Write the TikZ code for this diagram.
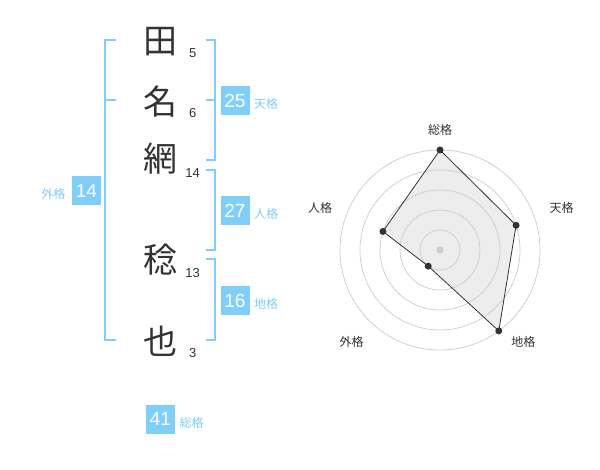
\documentclass[tikz,border=0pt]{standalone}
\usepackage{fontspec}
\setmainfont{Liberation Sans}
\newfontfamily\jpfont{Noto Sans CJK JP}
\definecolor{sky}{RGB}{128,206,250}
\definecolor{ink}{RGB}{51,51,51}
\definecolor{grid}{RGB}{204,204,204}
\tikzset{
  kanji/.style={font=\jpfont\fontsize{34}{34}\selectfont, text=ink, inner sep=0pt},
  strokes/.style={font=\fontsize{13}{13}\selectfont, text=ink, inner sep=0pt},
  kakubox/.style={fill=sky, text=white, minimum width=29pt, minimum height=29pt, inner sep=0pt, font=\fontsize{19}{19}\selectfont},
  kakulabel/.style={text=sky, font=\jpfont\fontsize{12}{12}\selectfont, inner sep=0pt},
  bracket/.style={draw=sky, line width=2.3pt},
  radarlabel/.style={text=ink, font=\jpfont\fontsize{12}{12}\selectfont, inner sep=0pt},
  radardot/.style={circle, fill=ink, inner sep=0pt, minimum size=7pt},
}
\begin{document}
\begin{tikzpicture}[x=1pt, y=-1pt]
\useasboundingbox[fill=white] (0,0) rectangle (600,470);

\node[kanji] (k1) at (160,42) {田};
\node[kanji] (k2) at (160,102) {名};
\node[kanji] (k3) at (160,159) {網};
\node[kanji] (k4) at (160,260) {稔};
\node[kanji] (k5) at (160,341) {也};

\node[strokes] (s1) at (192.7,53.3) {5};
\node[strokes] (s2) at (192.7,113.3) {6};
\node[strokes] (s3) at (192.7,173.3) {14};
\node[strokes] (s4) at (192.7,273.3) {13};
\node[strokes] (s5) at (192.7,353.3) {3};

\draw[bracket] (116,40) -- (105,40) -- (105,340) -- (116,340);
\draw[bracket] (105,100) -- (116,100);
\draw[bracket] (205.7,40) -- (215,40) -- (215,160) -- (205.7,160);
\draw[bracket] (205.7,100) -- (215,100);
\draw[bracket] (205.7,170) -- (215,170) -- (215,250) -- (205.7,250);
\draw[bracket] (205.7,259.3) -- (215,259.3) -- (215,340) -- (205.7,340);

\node[kakubox] (gai) at (86.5,190.5) {14};
\node[kakulabel] (gail) at (53.3,194) {外格};
\node[kakubox] (ten) at (235,100.5) {25};
\node[kakulabel] (tenl) at (266,104) {天格};
\node[kakubox] (jin) at (235,210.5) {27};
\node[kakulabel] (jinl) at (266,214) {人格};
\node[kakubox] (chi) at (235,300.5) {16};
\node[kakulabel] (chil) at (266,304) {地格};
\node[kakubox] (sou) at (160.5,419) {41};
\node[kakulabel] (soul) at (191.7,422.7) {総格};

\begin{scope}[shift={(440,250)}]
\coordinate (rsou) at (90:100pt);
\coordinate (rten) at (18:80pt);
\coordinate (rchi) at (-54:100pt);
\coordinate (rgai) at (-126:20pt);
\coordinate (rjin) at (162:60pt);
\fill[black, fill opacity=0.07] (rsou) -- (rten) -- (rchi) -- (rgai) -- (rjin) -- cycle;
\foreach \r in {20,40,60,80,100}
  \draw[grid, line width=0.7pt] (0,0) circle (\r pt);
\fill[grid] (0,0) circle (3.5pt);
\draw[ink, line width=0.8pt] (rsou) -- (rten) -- (rchi) -- (rgai) -- (rjin) -- cycle;
\foreach \p in {rsou,rten,rchi,rgai,rjin}
  \node[radardot] at (\p) {};
\end{scope}

\node[radarlabel] (lsou) at (440,130) {総格};
\node[radarlabel] (lten) at (561.7,208.3) {天格};
\node[radarlabel] (lchi) at (523.3,341.7) {地格};
\node[radarlabel] (lgai) at (351.7,341.7) {外格};
\node[radarlabel] (ljin) at (320,208.3) {人格};
\end{tikzpicture}
\end{document}
